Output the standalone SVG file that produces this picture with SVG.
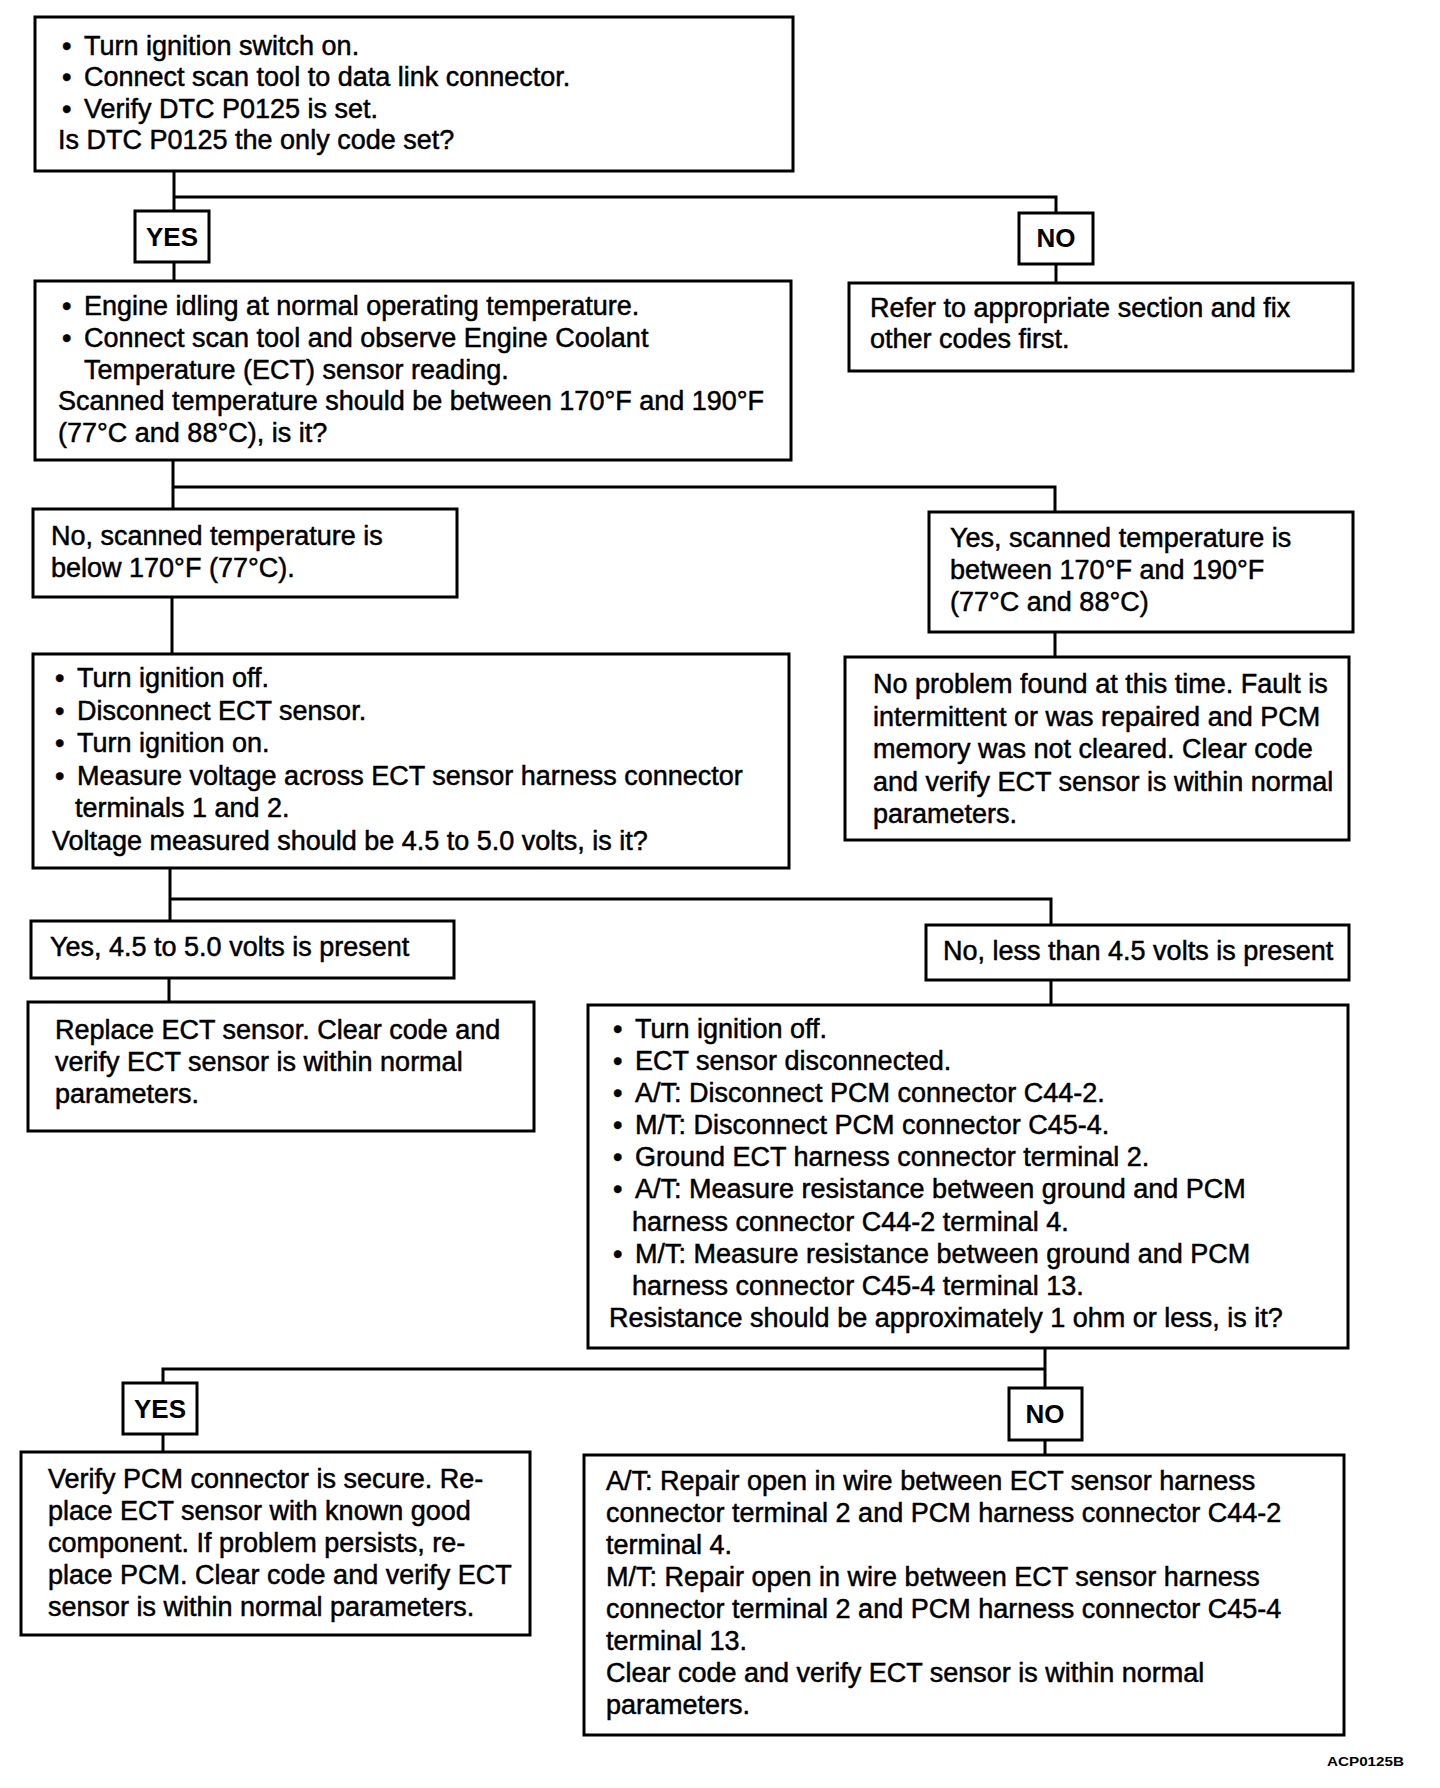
<svg xmlns="http://www.w3.org/2000/svg" width="1440" height="1788" viewBox="0 0 1440 1788">
<style>
.box{fill:#fff;stroke:#000;stroke-width:3}
.t{font-family:"Liberation Sans",Arial,Helvetica,sans-serif;font-size:27px;fill:#000;stroke:#000;stroke-width:0.5}
.lab{font-family:"Liberation Sans",Arial,Helvetica,sans-serif;font-size:26px;font-weight:bold;fill:#000;text-anchor:middle}
.con{fill:none;stroke:#000;stroke-width:3}
</style>
<rect width="1440" height="1788" fill="#fff"/>
<g id="connectors">
<path class="con" d="M174 171V211M174 197H1056V213M174 262V281M1056 264V283"/>
<path class="con" d="M173 460V509M173 487H1055V512M172 597V654M1055 632V657"/>
<path class="con" d="M170 868V921M170 899H1051V925M169 978V1002M1051 980V1005"/>
<path class="con" d="M1045 1348V1388M1045 1369H163V1383M163 1434V1452M1045 1440V1455"/>
</g>
<g id="n1">
<rect class="box" x="35" y="17" width="758" height="154"/>
<text class="t"><tspan x="62" y="55">•</tspan><tspan x="84" y="55">Turn ignition switch on.</tspan></text>
<text class="t"><tspan x="62" y="86">•</tspan><tspan x="84" y="86">Connect scan tool to data link connector.</tspan></text>
<text class="t"><tspan x="62" y="118">•</tspan><tspan x="84" y="118">Verify DTC P0125 is set.</tspan></text>
<text class="t" x="58" y="149">Is DTC P0125 the only code set?</text>
</g>
<g id="yes1">
<rect class="box" x="135" y="211" width="74" height="51"/>
<text class="lab" x="172" y="246">YES</text>
</g>
<g id="no1">
<rect class="box" x="1019" y="213" width="74" height="51"/>
<text class="lab" x="1056" y="247">NO</text>
</g>
<g id="n2">
<rect class="box" x="35" y="281" width="756" height="179"/>
<text class="t"><tspan x="62" y="315">•</tspan><tspan x="84" y="315">Engine idling at normal operating temperature.</tspan></text>
<text class="t"><tspan x="62" y="347">•</tspan><tspan x="84" y="347">Connect scan tool and observe Engine Coolant</tspan></text>
<text class="t" x="84" y="379">Temperature (ECT) sensor reading.</text>
<text class="t" x="58" y="410">Scanned temperature should be between 170°F and 190°F</text>
<text class="t" x="58" y="442">(77°C and 88°C), is it?</text>
</g>
<g id="n3">
<rect class="box" x="849" y="283" width="504" height="88"/>
<text class="t" x="870" y="317">Refer to appropriate section and fix</text>
<text class="t" x="870" y="348">other codes first.</text>
</g>
<g id="n4">
<rect class="box" x="33" y="509" width="424" height="88"/>
<text class="t" x="51" y="545">No, scanned temperature is</text>
<text class="t" x="51" y="577">below 170°F (77°C).</text>
</g>
<g id="n5">
<rect class="box" x="929" y="512" width="424" height="120"/>
<text class="t" x="950" y="547">Yes, scanned temperature is</text>
<text class="t" x="950" y="579">between 170°F and 190°F</text>
<text class="t" x="950" y="611">(77°C and 88°C)</text>
</g>
<g id="n6">
<rect class="box" x="33" y="654" width="756" height="214"/>
<text class="t"><tspan x="55" y="687">•</tspan><tspan x="77" y="687">Turn ignition off.</tspan></text>
<text class="t"><tspan x="55" y="720">•</tspan><tspan x="77" y="720">Disconnect ECT sensor.</tspan></text>
<text class="t"><tspan x="55" y="752">•</tspan><tspan x="77" y="752">Turn ignition on.</tspan></text>
<text class="t"><tspan x="55" y="785">•</tspan><tspan x="77" y="785">Measure voltage across ECT sensor harness connector</tspan></text>
<text class="t" x="75" y="817">terminals 1 and 2.</text>
<text class="t" x="52" y="850">Voltage measured should be 4.5 to 5.0 volts, is it?</text>
</g>
<g id="n7">
<rect class="box" x="845" y="657" width="504" height="183"/>
<text class="t" x="873" y="693">No problem found at this time. Fault is</text>
<text class="t" x="873" y="726">intermittent or was repaired and PCM</text>
<text class="t" x="873" y="758">memory was not cleared. Clear code</text>
<text class="t" x="873" y="791">and verify ECT sensor is within normal</text>
<text class="t" x="873" y="823">parameters.</text>
</g>
<g id="n8">
<rect class="box" x="31" y="921" width="423" height="57"/>
<text class="t" x="50" y="956">Yes, 4.5 to 5.0 volts is present</text>
</g>
<g id="n9">
<rect class="box" x="926" y="925" width="423" height="55"/>
<text class="t" x="943" y="960">No, less than 4.5 volts is present</text>
</g>
<g id="n10">
<rect class="box" x="28" y="1002" width="506" height="129"/>
<text class="t" x="55" y="1039">Replace ECT sensor. Clear code and</text>
<text class="t" x="55" y="1071">verify ECT sensor is within normal</text>
<text class="t" x="55" y="1103">parameters.</text>
</g>
<g id="n11">
<rect class="box" x="588" y="1005" width="760" height="343"/>
<text class="t"><tspan x="613" y="1038">•</tspan><tspan x="635" y="1038">Turn ignition off.</tspan></text>
<text class="t"><tspan x="613" y="1070">•</tspan><tspan x="635" y="1070">ECT sensor disconnected.</tspan></text>
<text class="t"><tspan x="613" y="1102">•</tspan><tspan x="635" y="1102">A/T: Disconnect PCM connector C44-2.</tspan></text>
<text class="t"><tspan x="613" y="1134">•</tspan><tspan x="635" y="1134">M/T: Disconnect PCM connector C45-4.</tspan></text>
<text class="t"><tspan x="613" y="1166">•</tspan><tspan x="635" y="1166">Ground ECT harness connector terminal 2.</tspan></text>
<text class="t"><tspan x="613" y="1198">•</tspan><tspan x="635" y="1198">A/T: Measure resistance between ground and PCM</tspan></text>
<text class="t" x="632" y="1231">harness connector C44-2 terminal 4.</text>
<text class="t"><tspan x="613" y="1263">•</tspan><tspan x="635" y="1263">M/T: Measure resistance between ground and PCM</tspan></text>
<text class="t" x="632" y="1295">harness connector C45-4 terminal 13.</text>
<text class="t" x="609" y="1327">Resistance should be approximately 1 ohm or less, is it?</text>
</g>
<g id="yes2">
<rect class="box" x="123" y="1383" width="74" height="51"/>
<text class="lab" x="160" y="1418">YES</text>
</g>
<g id="no2">
<rect class="box" x="1009" y="1388" width="73" height="52"/>
<text class="lab" x="1045" y="1423">NO</text>
</g>
<g id="n12">
<rect class="box" x="21" y="1452" width="509" height="183"/>
<text class="t" x="48" y="1488">Verify PCM connector is secure. Re-</text>
<text class="t" x="48" y="1520">place ECT sensor with known good</text>
<text class="t" x="48" y="1552">component. If problem persists, re-</text>
<text class="t" x="48" y="1584">place PCM. Clear code and verify ECT</text>
<text class="t" x="48" y="1616">sensor is within normal parameters.</text>
</g>
<g id="n13">
<rect class="box" x="584" y="1455" width="760" height="280"/>
<text class="t" x="606" y="1490">A/T: Repair open in wire between ECT sensor harness</text>
<text class="t" x="606" y="1522">connector terminal 2 and PCM harness connector C44-2</text>
<text class="t" x="606" y="1554">terminal 4.</text>
<text class="t" x="606" y="1586">M/T: Repair open in wire between ECT sensor harness</text>
<text class="t" x="606" y="1618">connector terminal 2 and PCM harness connector C45-4</text>
<text class="t" x="606" y="1650">terminal 13.</text>
<text class="t" x="606" y="1682">Clear code and verify ECT sensor is within normal</text>
<text class="t" x="606" y="1714">parameters.</text>
</g>
<text x="1327" y="1766" font-family="Liberation Sans, Arial, sans-serif" font-size="13" font-weight="bold" textLength="77" lengthAdjust="spacingAndGlyphs">ACP0125B</text>
</svg>
